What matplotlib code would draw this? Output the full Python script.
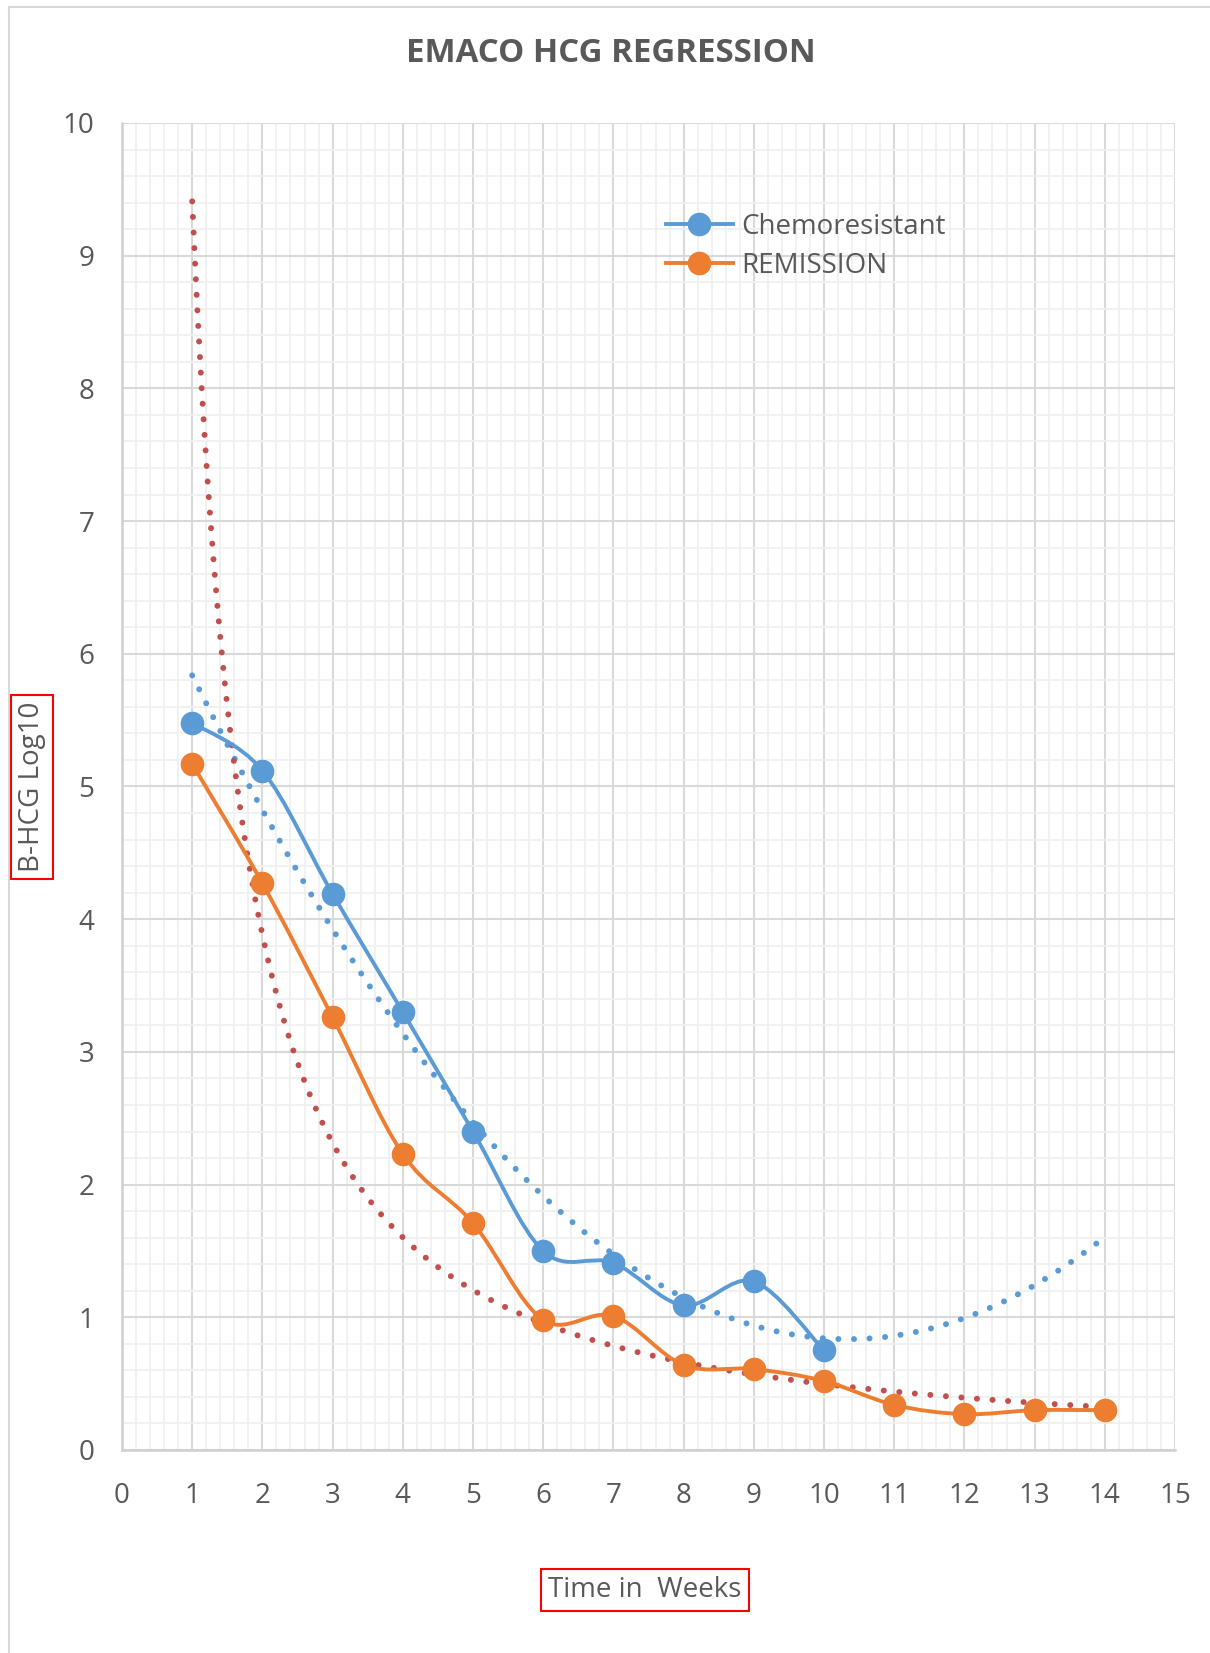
import numpy as np
import matplotlib
matplotlib.use("Agg")
import matplotlib.pyplot as plt
from matplotlib.path import Path
from matplotlib.patches import PathPatch
from matplotlib.lines import Line2D

plt.rcParams['font.family'] = ['Open Sans', 'DejaVu Sans']

title = "EMACO HCG REGRESSION"
xlabel = "Time in  Weeks"
ylabel = "B-HCG Log10"

chemo_weeks = [1, 2, 3, 4, 5, 6, 7, 8, 9, 10]
chemo_vals = [5.48, 5.12, 4.19, 3.30, 2.40, 1.50, 1.41, 1.09, 1.27, 0.75]
rem_weeks = [1, 2, 3, 4, 5, 6, 7, 8, 9, 10, 11, 12, 13, 14]
rem_vals = [5.17, 4.27, 3.26, 2.23, 1.71, 0.98, 1.01, 0.64, 0.61, 0.52, 0.34, 0.27, 0.30, 0.30]
trend_end = 14

BLUE = "#5B9BD5"
ORANGE = "#ED7D31"
RED = "#C0504D"
TXT = "#595959"

fig = plt.figure(figsize=(12.1, 16.53), dpi=100)
ax = fig.add_axes([122/1210, 1 - 1450/1653, (1175-122)/1210, (1450-123)/1653])

ax.set_xlim(0, 15)
ax.set_ylim(0, 10)
ax.set_xticks(range(0, 16))
ax.set_yticks(range(0, 11))
ax.set_xticks(np.arange(0, 15.01, 0.2), minor=True)
ax.set_yticks(np.arange(0, 10.01, 0.2), minor=True)
ax.grid(which='minor', color='#f0f0f0', linewidth=1.3, zorder=0)
ax.grid(which='major', color='#d9d9d9', linewidth=1.5, zorder=0)
ax.set_axisbelow(True)
for s in ['top', 'right']:
    ax.spines[s].set_visible(False)
for s in ['left', 'bottom']:
    ax.spines[s].set_color('#d0d0d0')
    ax.spines[s].set_linewidth(1.8)
ax.tick_params(which='both', length=0)
ax.tick_params(axis='x', pad=23, labelsize=20, labelcolor=TXT)
ax.tick_params(axis='y', pad=20, labelsize=20, labelcolor=TXT)


def smooth_path(xs, ys):
    pts = np.column_stack([xs, ys]).astype(float)
    n = len(pts)
    verts = [pts[0]]
    codes = [Path.MOVETO]
    for i in range(n - 1):
        p0 = pts[i - 1] if i > 0 else pts[i]
        p1 = pts[i]
        p2 = pts[i + 1]
        p3 = pts[i + 2] if i + 2 < n else pts[i + 1]
        c1 = p1 + (p2 - p0) / 6.0
        c2 = p2 - (p3 - p1) / 6.0
        verts += [c1, c2, p2]
        codes += [Path.CURVE4] * 3
    return Path(verts, codes)


# trendlines
tx = np.linspace(1, trend_end, 300)
coef = np.polyfit(chemo_weeks, chemo_vals, 2)
ax.plot(tx, np.polyval(coef, tx), color=BLUE, linewidth=4.3,
        linestyle=(0, (0.01, 2.6)), dash_capstyle='round', zorder=3)
b, lna = np.polyfit(np.log(rem_weeks), np.log(rem_vals), 1)
ax.plot(tx, np.exp(lna) * tx ** b, color=RED, linewidth=4.3,
        linestyle=(0, (0.01, 2.6)), dash_capstyle='round', zorder=3)

# smoothed series
for xs, ys, c in [(chemo_weeks, chemo_vals, BLUE), (rem_weeks, rem_vals, ORANGE)]:
    ax.add_patch(PathPatch(smooth_path(xs, ys), facecolor='none', edgecolor=c,
                           linewidth=2.8, zorder=4, capstyle='round', joinstyle='round'))
    ax.plot(xs, ys, linestyle='none', marker='o', markersize=16, color=c, zorder=5)

handles = [Line2D([], [], color=BLUE, linewidth=2.8, marker='o', markersize=16),
           Line2D([], [], color=ORANGE, linewidth=2.8, marker='o', markersize=16)]
leg = ax.legend(handles, ["Chemoresistant", "REMISSION"], loc='upper left',
                bbox_to_anchor=(0.493, 0.951), frameon=False, fontsize=20,
                handlelength=2.4, handletextpad=0.3, labelspacing=0.4,
                labelcolor=TXT)

fig.text(611/1210, 1 - 54/1653, title, ha='center', va='center',
         fontsize=23.8, fontweight='bold', color=TXT)

fig.text(645/1210, 1 - 1590/1653, xlabel, ha='center', va='center', fontsize=20,
         color=TXT, bbox=dict(boxstyle='square,pad=0.25', facecolor='white',
                              edgecolor='#ff0000', linewidth=1.5))
fig.text(32/1210, 1 - 787/1653, ylabel, ha='center', va='center', fontsize=20,
         color=TXT, rotation=90, bbox=dict(boxstyle='square,pad=0.25', facecolor='white',
                                            edgecolor='#ff0000', linewidth=1.5))

# chart border
fig.add_artist(Line2D([9/1210, 9/1210], [0, 1 - 7/1653], transform=fig.transFigure,
                      color='#d9d9d9', linewidth=1.5))
fig.add_artist(Line2D([9/1210, 1], [1 - 7/1653, 1 - 7/1653], transform=fig.transFigure,
                      color='#d9d9d9', linewidth=1.5))

fig.savefig("out.png", dpi=100)
